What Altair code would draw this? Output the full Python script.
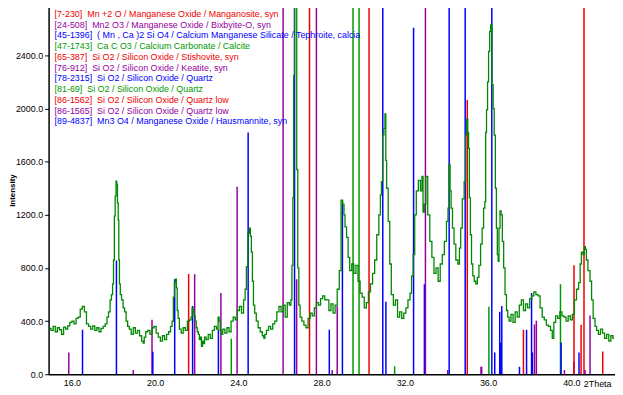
import altair as alt
import pandas as pd

# ---- measured pattern (2-theta, counts) ----
two_theta = [14.95, 15.05, 15.15, 15.25, 15.35, 15.45, 15.55, 15.65, 15.75, 15.85,
    15.95, 16.05, 16.15, 16.25, 16.35, 16.45, 16.55, 16.65, 16.75, 16.85,
    16.95, 17.05, 17.15, 17.25, 17.35, 17.45, 17.55, 17.65, 17.72, 17.8, 17.87, 17.93, 17.98,
    18.02, 18.06, 18.1, 18.14, 18.17, 18.21, 18.24, 18.27, 18.3, 18.35, 18.42, 18.5, 18.57, 18.64, 18.72,
    18.8, 18.9, 19.0, 19.1, 19.2, 19.3, 19.4, 19.45, 19.5, 19.6, 19.7, 19.8, 19.9, 20.0,
    20.1, 20.2, 20.3, 20.4, 20.5, 20.6, 20.7, 20.78, 20.85, 20.9, 20.95, 21.0, 21.04, 21.08, 21.13,
    21.2, 21.3, 21.4, 21.5, 21.6, 21.7, 21.75, 21.8, 21.85, 21.9, 21.95, 22.0, 22.05, 22.1, 22.15,
    22.2, 22.25, 22.3, 22.35, 22.4, 22.5, 22.6, 22.7, 22.8, 22.9, 23.0, 23.05, 23.1, 23.15, 23.2,
    23.3, 23.4, 23.5, 23.6, 23.7, 23.8, 23.9, 24.0, 24.1, 24.2, 24.3, 24.35, 24.42, 24.5, 24.55,
    24.6, 24.65, 24.7, 24.75, 24.82, 24.9, 25.0, 25.1, 25.2, 25.25, 25.3, 25.4, 25.5, 25.6, 25.7,
    25.8, 25.9, 26.0, 26.1, 26.2, 26.3, 26.4, 26.5, 26.55, 26.6, 26.64, 26.68, 26.72, 26.78, 26.83,
    26.88, 26.93, 27.0, 27.1, 27.2, 27.3, 27.4, 27.5, 27.6, 27.7, 27.8, 27.9, 28.0, 28.1, 28.2,
    28.3, 28.4, 28.5, 28.6, 28.7, 28.8, 28.9, 28.97, 29.05, 29.1, 29.15, 29.25, 29.3, 29.4, 29.5,
    29.6, 29.7, 29.8, 29.9, 30.0, 30.1, 30.2, 30.3, 30.4, 30.5, 30.6, 30.7, 30.8, 30.85, 30.9,
    30.97, 31.02, 31.07, 31.1, 31.15, 31.25, 31.3, 31.4, 31.5, 31.6, 31.7, 31.8, 31.9, 32.0, 32.1,
    32.2, 32.3, 32.35, 32.45, 32.5, 32.6, 32.7, 32.8, 32.85, 32.9, 32.97, 33.05, 33.15, 33.25, 33.35,
    33.45, 33.55, 33.65, 33.75, 33.85, 33.95, 34.05, 34.1, 34.15, 34.2, 34.25, 34.33, 34.4, 34.5, 34.6,
    34.65, 34.72, 34.8, 34.9, 34.95, 35.0, 35.05, 35.08, 35.12, 35.18, 35.23, 35.3, 35.37, 35.45, 35.52,
    35.6, 35.68, 35.75, 35.82, 35.87, 35.9, 35.95, 36.0, 36.05, 36.1, 36.15, 36.22, 36.27, 36.32, 36.38,
    36.42, 36.47, 36.5, 36.55, 36.6, 36.65, 36.72, 36.78, 36.85, 36.92, 36.97, 37.05, 37.15, 37.25, 37.35,
    37.45, 37.55, 37.65, 37.75, 37.85, 37.95, 38.05, 38.15, 38.25, 38.35, 38.45, 38.55, 38.65, 38.75, 38.85,
    38.95, 39.05, 39.12, 39.2, 39.3, 39.4, 39.5, 39.6, 39.7, 39.8, 39.9, 40.0, 40.1, 40.2, 40.3,
    40.4, 40.45, 40.52, 40.6, 40.65, 40.7, 40.75, 40.85, 40.95, 41.0, 41.1, 41.18, 41.25, 41.35, 41.45,
    41.55, 41.65, 41.75, 41.85, 41.95, 42.05]
counts = [345, 330, 360, 320, 350, 335, 300, 355, 340, 365,
    390, 400, 380, 420, 430, 490, 510, 470, 380, 360,
    340, 365, 330, 350, 320, 345, 360, 380, 430, 470, 560, 600, 680,
    860, 1190, 1340, 1453, 1430, 1290, 1160, 860, 680, 600, 560, 500, 470, 400, 360,
    340, 300, 350, 310, 330, 290, 250, 235, 280, 320, 330, 300, 350, 360,
    310, 280, 250, 290, 260, 300, 320, 360, 400, 580, 690, 716, 650, 480, 420,
    340, 310, 350, 330, 400, 410, 430, 500, 470, 440, 400, 350, 320, 300, 260,
    280, 210, 250, 230, 280, 260, 300, 270, 330, 360, 340, 430, 400, 330, 300,
    340, 310, 350, 320, 400, 430, 410, 480, 510, 460, 560, 640, 810, 1060, 1100,
    1040, 920, 700, 520, 460, 400, 350, 320, 290, 270, 300, 330, 360, 340, 380,
    400, 470, 510, 470, 520, 430, 540, 520, 560, 820, 1330, 2250, 3200, 3200, 1540,
    800, 520, 430, 400, 370, 350, 420, 460, 440, 500, 540, 520, 570, 590, 560,
    560, 480, 530, 460, 520, 640, 780, 1310, 1280, 1200, 1110, 1030, 880, 780, 830,
    760, 820, 700, 610, 580, 500, 540, 620, 680, 760, 860, 1050, 1200, 1350, 1450,
    1800, 1850, 1960, 1610, 1400, 1150, 830, 600, 520, 560, 430, 470, 420, 460, 500,
    560, 610, 740, 900, 1200, 1380, 1460, 1380, 1490, 1220, 1280, 1490, 1200, 1000, 880,
    760, 800, 700, 830, 900, 1000, 1150, 1250, 1580, 1380, 1250, 1100, 980, 860, 830,
    950, 1100, 1320, 1450, 1800, 1920, 1820, 1700, 1330, 1050, 830, 740, 700, 680, 730,
    820, 980, 1100, 1250, 1300, 1820, 1990, 2200, 2430, 2580, 2630, 2180, 2000, 1800, 1400,
    1100, 900, 850, 1100, 1230, 1200, 1000, 800, 600, 480, 430, 400, 450, 390, 470,
    430, 520, 560, 480, 530, 500, 570, 590, 620, 600, 590, 500, 430, 410, 370,
    360, 330, 270, 390, 440, 420, 470, 440, 430, 400, 440, 410, 450, 560, 640,
    690, 830, 920, 900, 960, 940, 860, 780, 700, 560, 420, 360, 330, 300, 340,
    310, 270, 300, 250, 290, 270]

# ---- reference phases ----
phase_codes = ["[7-230]", "[24-508]", "[45-1396]", "[47-1743]", "[65-387]", "[76-912]",
               "[78-2315]", "[81-69]", "[86-1562]", "[86-1565]", "[89-4837]"]
phase_names = ["Mn +2 O / Manganese Oxide / Manganosite, syn",
               "Mn2 O3 / Manganese Oxide / Bixbyite-O, syn",
               "( Mn , Ca )2 Si O4 / Calcium Manganese Silicate / Tephroite, calcia",
               "Ca C O3 / Calcium Carbonate / Calcite",
               "Si O2 / Silicon Oxide / Stishovite, syn",
               "Si O2 / Silicon Oxide / Keatite, syn",
               "Si O2 / Silicon Oxide / Quartz",
               "Si O2 / Silicon Oxide / Quartz",
               "Si O2 / Silicon Oxide / Quartz low",
               "Si O2 / Silicon Oxide / Quartz low",
               "Mn3 O4 / Manganese Oxide / Hausmannite, syn"]
phase_colors = ["#EE0000", "#9400A0", "#0000FF", "#009A00", "#EE0000", "#9400A0",
                "#0000FF", "#009A00", "#EE0000", "#9400A0", "#0000FF"]

# ---- reference sticks (2-theta, intensity, phase) ----
stick_pos = [15.85, 16.51, 18.14, 18.95, 19.85, 19.89, 20.94, 21.61, 21.80, 21.90,
             23.04, 23.16, 23.66, 23.94, 24.47, 26.15, 26.70, 26.80, 27.42, 27.75,
             28.37, 28.51, 28.75, 29.00, 29.51, 29.80, 30.28, 30.94, 31.09, 31.51,
             32.42, 32.94, 32.99, 34.06, 34.13, 34.90, 35.00, 35.66, 35.69, 36.04,
             36.18, 36.32, 36.56, 36.61, 36.66, 37.51, 37.70, 37.85, 38.09, 38.13,
             38.23, 38.32, 39.48, 39.51, 39.67, 40.12, 40.13, 40.37, 40.47, 40.61,
             40.66, 40.90, 41.51]
stick_int = [164, 335, 857, 32, 410, 169, 716, 755, 514, 753,
             335, 611, 268, 1411, 1819, 3500, 3500, 716, 3500, 3500,
             335, 32, 514, 1304, 3500, 3500, 3500, 3500, 546, 60,
             2609, 678, 3500, 32, 3500, 3500, 2065, 57, 57, 509,
             3500, 164, 470, 238, 514, 57, 335, 335, 611, 164,
             375, 402, 678, 238, 32, 97, 820, 164, 373, 3500,
             32, 442, 171]
stick_phase = ["[24-508]", "[89-4837]", "[78-2315]", "[76-912]", "[24-508]", "[45-1396]",
               "[78-2315]", "[7-230]", "[89-4837]", "[86-1565]",
               "[89-4837]", "[76-912]", "[81-69]", "[24-508]", "[89-4837]",
               "[86-1565]", "[78-2315]", "[24-508]", "[65-387]", "[76-912]",
               "[89-4837]", "[24-508]", "[86-1565]", "[89-4837]", "[47-1743]",
               "[81-69]", "[65-387]", "[45-1396]", "[89-4837]", "[47-1743]",
               "[89-4837]", "[45-1396]", "[24-508]", "[24-508]", "[45-1396]",
               "[89-4837]", "[7-230]", "[76-912]", "[76-912]", "[47-1743]",
               "[89-4837]", "[45-1396]", "[78-2315]", "[45-1396]", "[89-4837]",
               "[45-1396]", "[86-1562]", "[89-4837]", "[89-4837]", "[45-1396]",
               "[24-508]", "[86-1565]", "[47-1743]", "[78-2315]", "[76-912]",
               "[76-912]", "[7-230]", "[89-4837]", "[86-1562]", "[65-387]",
               "[24-508]", "[86-1565]", "[7-230]"]

y_ticks = [0, 400, 800, 1200, 1600, 2000, 2400]
x_ticks = [16, 20, 24, 28, 32, 36, 40]

FONT = "Liberation Sans"

pattern = pd.DataFrame({"two_theta": two_theta, "counts": counts})
sticks = pd.DataFrame({"two_theta": stick_pos, "intensity": stick_int, "phase": stick_phase})
legend_df = pd.DataFrame({
    "row": list(range(len(phase_codes))),
    "phase": phase_codes,
    "label": [c + "\u00a0\u00a0" + n for c, n in zip(phase_codes, phase_names)],
})

color_scale = alt.Scale(domain=phase_codes, range=phase_colors)
x_scale = alt.Scale(domain=[14.88, 42.1], nice=False, zero=False)
y_scale = alt.Scale(domain=[0, 2765], nice=False)

x_axis = alt.Axis(values=x_ticks, format=".1f", ticks=False, grid=False, labelPadding=4,
                  labelFontSize=9, labelFont=FONT, labelColor="black",
                  domainColor="black", domainWidth=1.5, title="2Theta",
                  titleFont=FONT, titleFontSize=9, titleFontWeight="normal",
                  titleColor="black", titleX=568, titleY=9, titleAlign="right",
                  titleBaseline="middle", titleAnchor="end", labelFlush=False)
y_axis = alt.Axis(values=y_ticks, format=".1f", grid=False, tickSize=4, tickColor="black",
                  labelPadding=2, labelFontSize=9, labelFont=FONT, labelColor="black",
                  domainColor="black", domainWidth=1.5, title="Intensity",
                  titleFont=FONT, titleFontSize=8, titleFontWeight="bold", titleColor="black",
                  titleX=-36, titleY=185, titleAngle=270, titleAlign="center",
                  titleBaseline="middle")

rules = alt.Chart(sticks).mark_rule(strokeWidth=1.5, clip=True).encode(
    x=alt.X("two_theta:Q", scale=x_scale, axis=x_axis),
    y=alt.Y("intensity:Q", scale=y_scale, axis=y_axis),
    y2=alt.datum(0),
    color=alt.Color("phase:N", scale=color_scale, legend=None),
)

curve = alt.Chart(pattern).mark_line(color="#008800", strokeWidth=1.3, clip=True,
                                     interpolate="step").encode(
    x=alt.X("two_theta:Q", scale=x_scale),
    y=alt.Y("counts:Q", scale=y_scale),
)

data_layers = alt.layer(rules, curve)

legend_text = alt.Chart(legend_df).mark_text(
    align="left", baseline="middle", font=FONT, fontSize=9
).encode(
    x=alt.value(6),
    y=alt.Y("row:O", scale=alt.Scale(type="point", range=[7, 115.7], padding=0), axis=None),
    text="label:N",
    color=alt.Color("phase:N", scale=color_scale, legend=None),
)

chart = alt.layer(data_layers, legend_text).resolve_scale(y="independent").properties(
    width=572, height=371,
    padding={"left": 41, "top": -3, "right": 0, "bottom": 14},
    autosize=alt.AutoSizeParams(type="none"),
    background="white",
).configure_view(stroke=None)

chart.save("out.html", embed_options={"renderer": "svg", "actions": False})
